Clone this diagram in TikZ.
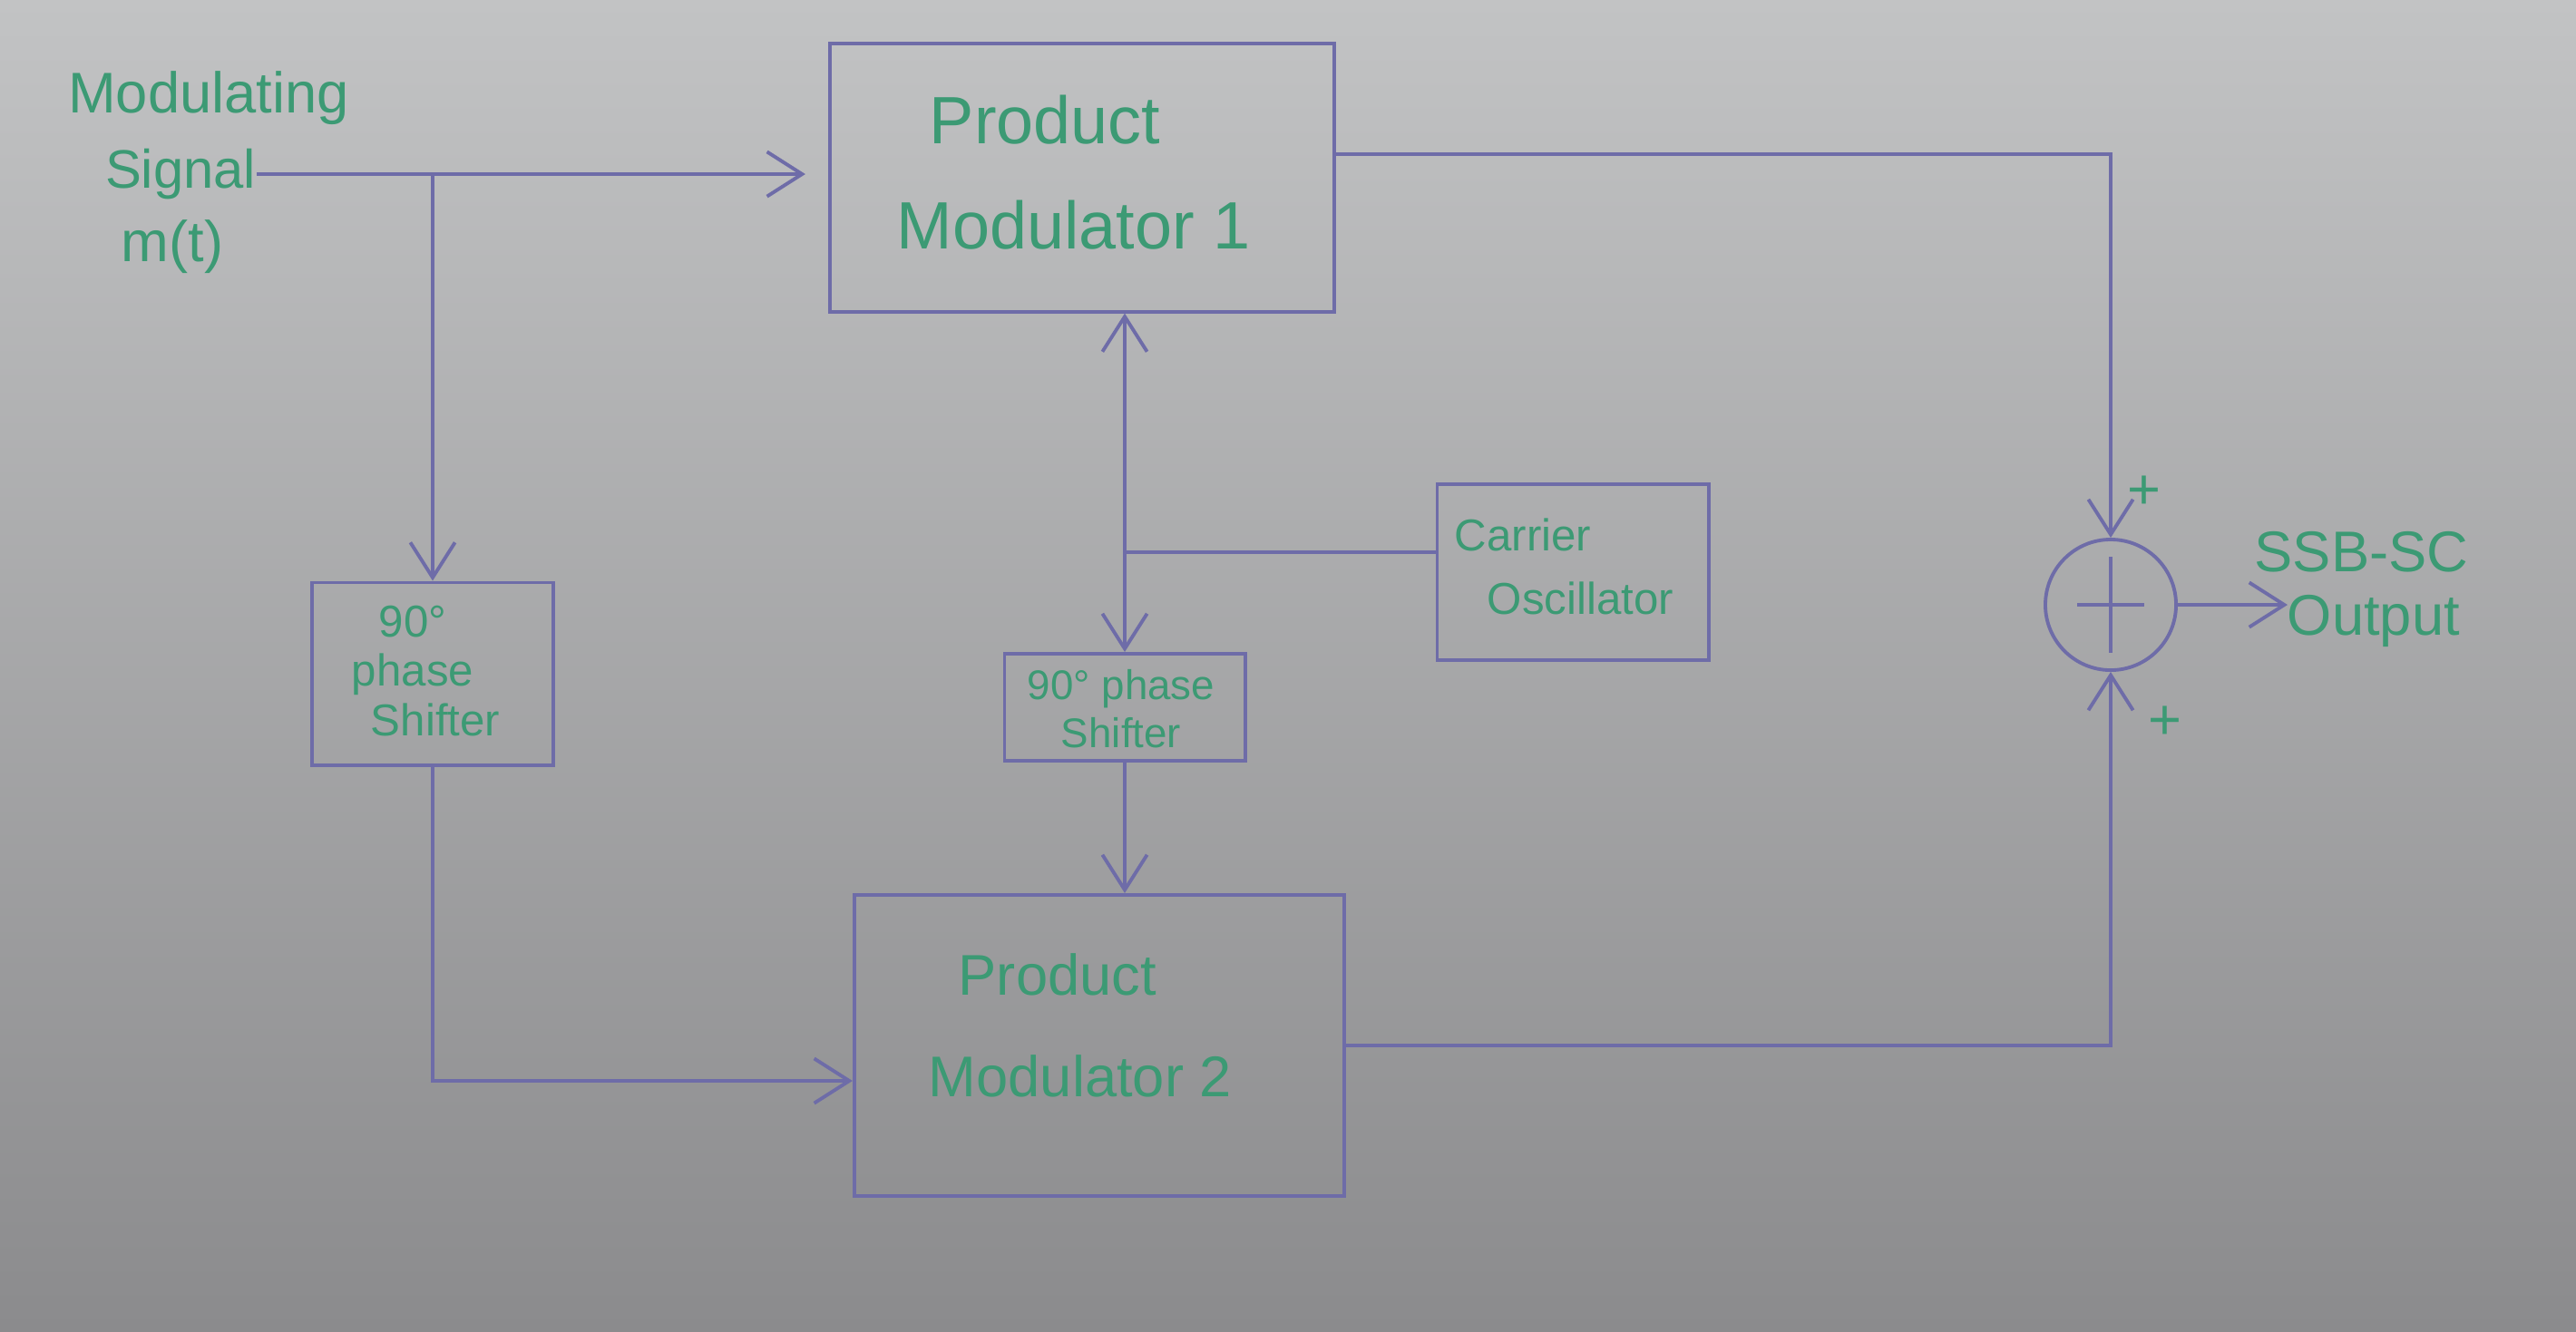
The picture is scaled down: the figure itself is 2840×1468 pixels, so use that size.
\documentclass[tikz,border=0pt]{standalone}
\usepackage{fontspec}
\setmainfont{Liberation Sans}
\usetikzlibrary{arrows.meta,calc}
\definecolor{ink}{HTML}{6E6CA8}
\definecolor{pen}{HTML}{3C9A74}
\definecolor{bgtop}{HTML}{C2C3C4}
\definecolor{bgmid}{HTML}{B2B3B5}
\definecolor{bgbot}{HTML}{8B8B8D}
\begin{document}
\begin{tikzpicture}[x=0.01cm,y=-0.01cm,
  wire/.style={draw=ink,line width=1.1pt},
  arr/.style={wire,-{Straight Barb[length=11pt,width=14pt,line width=1.1pt]}},
  blk/.style={draw=ink,line width=1.1pt,inner sep=0pt},
  lbl/.style={text=pen,inner sep=0pt},
]
\shade[top color=bgtop,middle color=bgmid,bottom color=bgbot] (0,0) rectangle (2840,1468);
\useasboundingbox (0,0) rectangle (2840,1468);

% blocks
\node[blk,minimum width=5.56cm,minimum height=2.95cm] (pm1) at (1193,196) {};
\node[blk,minimum width=5.40cm,minimum height=3.32cm] (pm2) at (1212,1153) {};
\node[blk,minimum width=2.66cm,minimum height=2.01cm] (ps1) at (477,743) {};
\node[blk,minimum width=2.65cm,minimum height=1.18cm] (ps2) at (1240,780) {};
\node[blk,minimum width=2.99cm,minimum height=1.94cm] (osc) at (1734,631) {};
\node[draw=ink,line width=1.1pt,circle,minimum size=1.44cm,inner sep=0pt] (sum) at (2327,667) {};
\draw[wire] ($(sum.center)+(0,-53)$) -- ($(sum.center)+(0,53)$);
\draw[wire] ($(sum.center)+(-37,0)$) -- ($(sum.center)+(37,0)$);

% labels
\node[lbl,font=\fontsize{18}{23}\selectfont] (modt) at (230,108) {Modulating};
\node[lbl,font=\fontsize{17}{23}\selectfont,anchor=east] (sig) at (283,192) {Signal};
\node[lbl,font=\fontsize{18}{23}\selectfont] (mt) at (190,272) {m(t)};
\node[lbl,font=\fontsize{21}{33}\selectfont,align=left,anchor=west] (pm1t) at (988,190) {\hspace*{0.36cm}Product\\Modulator 1};
\node[lbl,font=\fontsize{18}{32}\selectfont,align=left,anchor=west] (pm2t) at (1023,1131) {\hspace*{0.33cm}Product\\Modulator 2};
\node[lbl,font=\fontsize{14}{15.6}\selectfont,align=center] (ps1t) at (455,740) {90°\\phase\\\hspace*{0.5cm}Shifter};
\node[lbl,font=\fontsize{13}{15}\selectfont,align=center] (ps2t) at (1236,782) {90° phase\\Shifter};
\node[lbl,font=\fontsize{14}{20}\selectfont,align=left,anchor=west] (osct) at (1603,625) {Carrier\\\hspace*{0.36cm}Oscillator};
\node[lbl,font=\fontsize{18}{20}\selectfont,align=left,anchor=west] (outt) at (2485,650) {SSB-SC\\\hspace*{0.36cm}Output};
\node[lbl,font=\fontsize{18}{20}\selectfont] (p1) at (2364,543) {+};
\node[lbl,font=\fontsize{18}{20}\selectfont] (p2) at (2387,797) {+};

% connectors
\draw[arr,shorten >=0.25cm] (sig.east) -- (sig.east -| pm1.west);
\coordinate (j1) at (sig.east -| ps1.north);
\draw[arr] (j1) -- (ps1.north);
\draw[arr] (ps1.south) |- ($(pm2.west)+(0,39)$);
\coordinate (oscout) at ($(osc.west)+(0,-22)$);
\coordinate (j2) at (oscout -| ps2.north);
\draw[wire] (oscout) -- (j2);
\draw[arr] (j2) -- (j2 |- pm1.south);
\draw[arr] (j2) -- (ps2.north);
\draw[arr] (ps2.south) -- (ps2.south |- pm2.north);
\draw[arr] ($(pm1.east)+(0,-26)$) -| (sum.north);
\draw[arr] (pm2.east) -| (sum.south);
\draw[arr] (sum.east) -- ++(121,0) coordinate (out);
\end{tikzpicture}
\end{document}
